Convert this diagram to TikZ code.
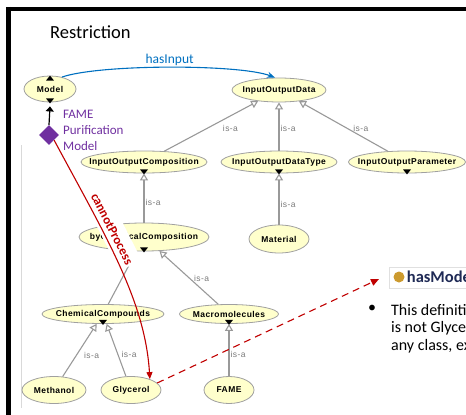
\documentclass[tikz,border=0pt]{standalone}
\usepackage{fontspec}
\setmainfont{Carlito}
\newfontfamily\clsfont{Liberation Sans}[LetterSpace=5.0]
\usetikzlibrary{positioning, arrows.meta, shapes.geometric}
\definecolor{clsfill}{HTML}{FFFFCC}
\definecolor{clsdraw}{HTML}{A0A0A0}
\definecolor{isagray}{HTML}{999999}
\definecolor{relblue}{HTML}{0070C0}
\definecolor{relred}{HTML}{C00000}
\definecolor{modpurple}{HTML}{7030A0}
\definecolor{dotgold}{HTML}{CC9A2E}
\definecolor{navy}{HTML}{1F2A55}

% small black marker at the bottom of a class
\newcommand\downmark[1]{\fill ([yshift=-1pt]#1.south) -- ++(-4,-5) -- ++(8,0) -- cycle;}

\begin{document}
\begin{tikzpicture}[x=1pt, y=-1pt, >=Stealth,
  cls/.style 2 args={ellipse, draw=clsdraw, line width=0.8pt, fill=clsfill,
    inner sep=0pt, minimum width=#1, minimum height=#2},
  clstext/.style={font=\clsfont\bfseries\fontsize{8.5}{10}\selectfont, inner sep=0pt},
  isa/.style={draw=isagray, line width=1.1pt, -{Triangle[open, length=7pt, width=8pt]}},
  isalab/.style={font=\clsfont\fontsize{8.5}{10}\selectfont, text=isagray!80!black,
    anchor=west, inner sep=1pt}
]
\useasboundingbox (0,0) rectangle (466,415);

% slide frame
\draw[line width=4.5pt] (6.25,9) -- (470,9);
\draw[line width=4.5pt] (8.5,6.75) -- (8.5,420);
\draw[black!15, line width=0.8pt] (21,145) -- (21,408);

\node[font=\fontsize{18.5}{22}\selectfont, anchor=base west, inner sep=0pt] (title) at (50,38) {Restriction};

% classes
\node[cls={52pt}{26pt}, label={[clstext]center:Model}] (model) at (50,89) {};
\node[cls={94pt}{24pt}, label={[clstext]center:InputOutputData}] (iod) at (279,90) {};
\node[cls={126pt}{22pt}, label={[clstext]center:InputOutputComposition}] (ioc) at (144,162) {};
\node[cls={116pt}{22pt}, label={[clstext]center:InputOutputDataType}] (iodt) at (279,162) {};
\node[cls={117pt}{22pt}, label={[clstext]center:InputOutputParameter}] (iop) at (407,162) {};
\node[cls={130pt}{28pt}, label={[clstext]center:byChemicalComposition}] (bcc) at (144,237) {};
\node[cls={60pt}{28pt}, label={[clstext]center:Material}] (mat) at (279,239) {};
\node[cls={122pt}{19pt}, label={[clstext]center:ChemicalCompounds}] (chem) at (103,314) {};
\node[cls={99pt}{19pt}, label={[clstext]center:Macromolecules}] (mac) at (229,314) {};
\node[cls={64pt}{27pt}, label={[clstext]center:Methanol}] (meth) at (54,390) {};
\node[cls={60pt}{27pt}, label={[clstext]center:Glycerol}] (gly) at (131,390) {};
\node[cls={50pt}{27pt}, label={[clstext]center:FAME}] (fame) at (229,390) {};

\downmark{model}
\downmark{ioc}
\downmark{iodt}
\downmark{iop}
\downmark{bcc}
\downmark{chem}
\downmark{mac}
\fill (model.north) -- ++(-4,5) -- ++(8,0) -- cycle;

% is-a links
\draw[isa] (ioc) -- (iod) node[isalab, pos=.46, xshift=14pt] {is-a};
\draw[isa] (iodt) -- (iod) node[isalab, pos=.45] {is-a};
\draw[isa] (iop) -- (iod) node[isalab, pos=.45, xshift=4pt] {is-a};
\draw[isa] (mat) -- (iodt) node[isalab, pos=.4] {is-a};
\draw[isa] (bcc) -- (ioc) node[isalab, pos=.4] {is-a};
\draw[isa] (mac) -- (bcc) node[isalab, pos=.49, xshift=3pt] {is-a};
\draw[isa] (chem) -- (bcc);
\draw[isa] (meth) -- (chem) node[isalab, pos=.41, xshift=6pt] {is-a};
\draw[isa] (gly) -- (chem) node[isalab, pos=.41, xshift=2pt] {is-a};
\draw[isa] (fame) -- (mac) node[isalab, pos=.41] {is-a};

% object property
\draw[->, relblue, line width=1.1pt] (model.45) .. controls (100,64) and (240,64) .. ([xshift=-4pt]iod.north)
  node[pos=.5, above, inner sep=1pt, font=\fontsize{13.5}{16}\selectfont] {hasInput};

% restriction on the model
\node[diamond, fill=modpurple, minimum size=20pt, inner sep=0pt] (dia) at (49,135) {};
\draw[-{Triangle[length=5pt, width=8pt]}, line width=1.2pt] (dia.north) -- ([yshift=-4pt]model.south);
\node[font=\fontsize{13}{16}\selectfont, text=modpurple, align=left, anchor=north west,
  inner sep=0pt] (modlab) at (63,109.5) {FAME\\Purification\\Model};

\node[font=\bfseries\fontsize{13}{15}\selectfont, text=relred, fill=white, rotate=-63,
  inner xsep=2pt, inner ysep=8pt] (cplab) at (112,229) {cannotProcess};
\draw[relred, line width=1.1pt, -{Triangle[length=7pt, width=6pt]}]
  (dia.south east) .. controls (105,235) and (145,300) .. (gly.30);

% right part of the slide
\coordinate (hmtip) at (379,279);
\draw[relred, line width=1.1pt, dash pattern=on 7pt off 5pt, -{Triangle[length=8pt, width=7pt]}]
  (gly.15) -- (hmtip);
\draw[black!12] (389,267) rectangle (475,288);
\node[circle, fill=dotgold, minimum size=11pt, inner sep=0pt] (hmdot) at (399,277) {};
\node[font=\bfseries\fontsize{16.5}{18}\selectfont, text=navy, inner sep=0pt, right=2pt of hmdot] (hm) {hasModel};
\node[font=\fontsize{16}{18}\selectfont, inner sep=0pt] (bul) at (372,309) {•};
\node[font=\fontsize{16}{17.5}\selectfont, align=left, anchor=north west, inner sep=0pt]
  (defn) at (391,304) {This definiti\\is not Glyce\\any class, ex};
\end{tikzpicture}
\end{document}
